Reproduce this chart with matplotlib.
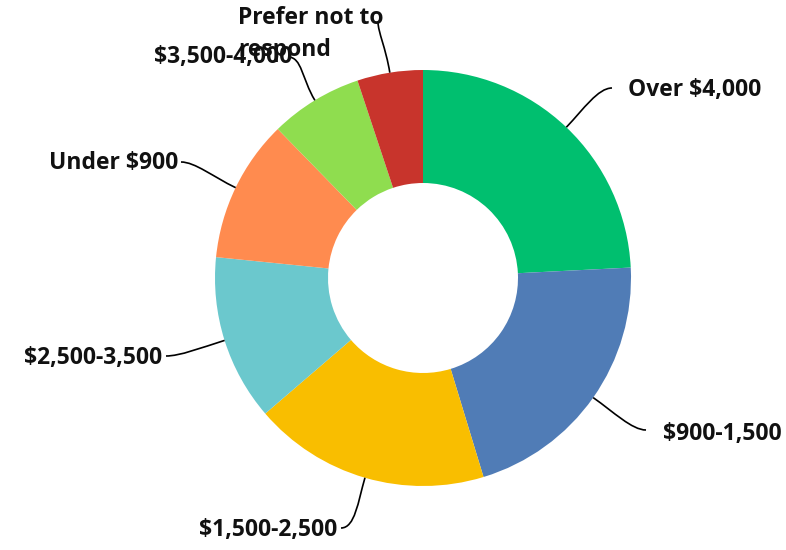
import numpy as np
import matplotlib.pyplot as plt
from matplotlib.path import Path
from matplotlib.patches import PathPatch

labels = ['Over $4,000', '$900-1,500', '$1,500-2,500', '$2,500-3,500',
          'Under $900', '$3,500-4,000', 'Prefer not to\nrespond']
shares = [24.2, 21.1, 18.4, 12.9, 11.1, 7.2, 5.1]
colors = ['#00BF6F', '#507CB6', '#F9BE00', '#6BC8CD', '#FF8B4F', '#8FDD4F', '#C8342C']

# label placement in pixels (x, y of text anchor, alignment, connector end)
W, H = 786, 550
label_pos = [(628, 90, 'left', (612, 88)),
             (663, 434, 'left', (646, 430)),
             (337, 530, 'right', (341, 528)),
             (162, 358, 'right', (166, 356)),
             (178, 163, 'right', (181, 162)),
             (292, 57, 'right', (288, 57)),
             (238, 34, 'left', (378, 22))]

cx, cy = 423, H - 278
R, r_in = 208, 95

fig = plt.figure(figsize=(W / 100, H / 100), dpi=100)
ax = fig.add_axes([0, 0, 1, 1])
ax.set_xlim(0, W)
ax.set_ylim(0, H)
ax.set_aspect('equal')
ax.axis('off')

ax.pie(shares, colors=colors, center=(cx, cy), radius=R, startangle=90,
       counterclock=False, wedgeprops=dict(width=R - r_in, linewidth=0))
ax.set_xlim(0, W)
ax.set_ylim(0, H)

font = dict(family='Open Sans', weight='bold', size=16.5, color='#111111')
cum = np.cumsum([0] + shares[:-1])
for lab, s, c0, (tx, ty, ha, end) in zip(labels, shares, cum, label_pos):
    mid = np.deg2rad((c0 + s / 2) * 3.6)
    dx, dy = np.sin(mid), np.cos(mid)
    p0 = (cx + R * dx, cy + R * dy)
    p1 = (cx + (R + 25) * dx, cy + (R + 25) * dy)
    ex, ey = end[0], H - end[1]
    side = 1 if ha == 'left' else -1
    if lab.startswith('Prefer'):
        p2 = (ex, ey - 10)
    else:
        p2 = (ex - side * 14, ey)
    path = Path([p0, p1, p2, (ex, ey)], [Path.MOVETO, Path.CURVE4, Path.CURVE4, Path.CURVE4])
    ax.add_patch(PathPatch(path, fill=False, lw=1.2, color='black'))
    ax.text(tx, H - ty, lab, ha=ha, va='center', linespacing=1.45, **font)

fig.savefig('out.png', dpi=100)
